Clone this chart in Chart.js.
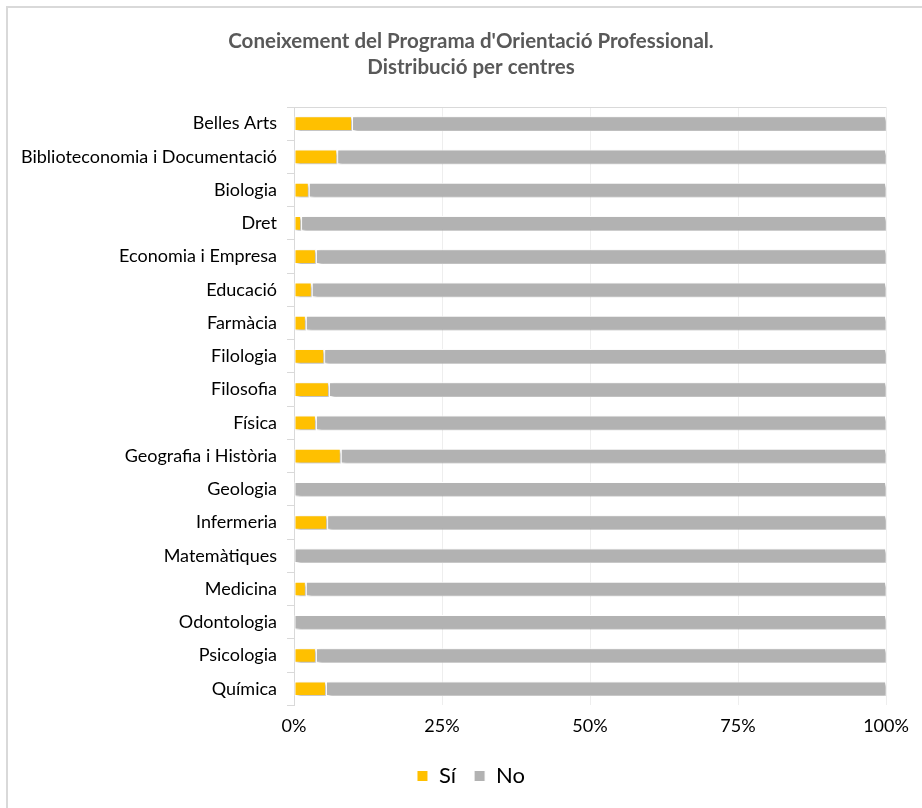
<!DOCTYPE html>
<html>
<head>
<meta charset="utf-8">
<script src="https://cdn.jsdelivr.net/npm/chart.js@4.4.0/dist/chart.umd.min.js"></script>
<style>
  html, body { margin: 0; padding: 0; background: #fff; }
  #wrap { width: 922px; height: 808px; }
</style>
</head>
<body>
<div id="wrap"><canvas id="centresChart" width="922" height="808"></canvas></div>
<script>
// Centres i percentatges (llegits del gràfic)
const centres = ['Belles Arts', 'Biblioteconomia i Documentació', 'Biologia', 'Dret',
  'Economia i Empresa', 'Educació', 'Farmàcia', 'Filologia', 'Filosofia', 'Física',
  'Geografia i Història', 'Geologia', 'Infermeria', 'Matemàtiques', 'Medicina',
  'Odontologia', 'Psicologia', 'Química'];
const valorsSi = [9.8, 7.3, 2.5, 1.2, 3.7, 3.0, 2.0, 5.1, 5.9, 3.7, 7.9, 0, 5.6, 0, 2.0, 0, 3.7, 5.4];
const valorsNo = [90.2, 92.7, 97.5, 98.8, 96.3, 97.0, 98.0, 94.9, 94.1, 96.3, 92.1, 100, 94.4, 100, 98.0, 100, 96.3, 94.6];
const ticksX = [0, 25, 50, 75, 100];

const FONT = 'Lato, "Open Sans", sans-serif';

// marc exterior, línia superior i ombra de les barres
const decor = {
  id: 'decor',
  afterLayout(chart) {
    // deixar espai a les etiquetes llargues (no retallar-les)
    chart.scales.y.left = 0;
  },
  beforeDraw(chart) {
    const c = chart.ctx;
    c.save();
    c.strokeStyle = '#d9d9d9';
    c.lineWidth = 2;
    c.beginPath();
    c.moveTo(7, 820);
    c.lineTo(7, 7);
    c.lineTo(930, 7);
    c.stroke();
    c.restore();
  },
  afterDraw(chart) {
    const a = chart.chartArea;
    const c = chart.ctx;
    c.save();
    c.strokeStyle = '#d9d9d9';
    c.lineWidth = 1;
    c.beginPath();
    c.moveTo(a.left, a.top + 0.5);
    c.lineTo(a.right, a.top + 0.5);
    c.stroke();
    c.restore();
  },
  beforeDatasetDraw(chart) {
    const c = chart.ctx;
    c.save();
    c.shadowColor = 'rgba(0,0,0,0.3)';
    c.shadowBlur = 3;
    c.shadowOffsetX = 2;
    c.shadowOffsetY = 2;
  },
  afterDatasetDraw(chart) {
    chart.ctx.restore();
  }
};

const chart = new Chart(document.getElementById('centresChart').getContext('2d'), {
  type: 'bar',
  data: {
    labels: centres,
    datasets: [
      {
        label: 'Sí',
        data: valorsSi,
        backgroundColor: '#ffc000',
        borderColor: '#ffffff',
        borderWidth: 1,
        borderSkipped: false,
        barPercentage: 0.44,
        categoryPercentage: 1
      },
      {
        label: 'No',
        data: valorsNo,
        backgroundColor: '#b2b2b2',
        borderColor: '#ffffff',
        borderWidth: 1,
        borderSkipped: false,
        barPercentage: 0.44,
        categoryPercentage: 1
      }
    ]
  },
  options: {
    indexAxis: 'y',
    responsive: false,
    animation: false,
    layout: { padding: { top: 28, left: 56, right: 36, bottom: 11 } },
    plugins: {
      title: {
        display: true,
        text: ["Coneixement del Programa d'Orientació Professional.", 'Distribució per centres'],
        color: '#595959',
        font: { family: FONT, size: 20.5, weight: 'bold', lineHeight: '26px' },
        padding: { top: 0, bottom: 27 }
      },
      legend: {
        position: 'bottom',
        labels: {
          color: '#000',
          boxWidth: 11,
          boxHeight: 11,
          padding: 18,
          font: { family: FONT, size: 22 }
        }
      },
      tooltip: { enabled: false }
    },
    scales: {
      x: {
        stacked: true,
        min: 0,
        max: 100,
        afterBuildTicks(scale) {
          scale.ticks = ticksX.map(v => ({ value: v }));
        },
        ticks: {
          color: '#000',
          padding: 10,
          font: { family: FONT, size: 18 },
          callback: v => v + '%'
        },
        grid: { color: '#eeeeee', drawTicks: false },
        border: { display: false }
      },
      y: {
        stacked: true,
        afterFit(scale) { scale.width = 238; },
        ticks: {
          color: '#000',
          padding: 10,
          font: { family: FONT, size: 18 }
        },
        grid: { drawOnChartArea: false, color: '#d9d9d9', tickLength: 7, offset: true },
        border: { color: '#d9d9d9', width: 1 }
      }
    }
  },
  plugins: [decor]
});
</script>
</body>
</html>
